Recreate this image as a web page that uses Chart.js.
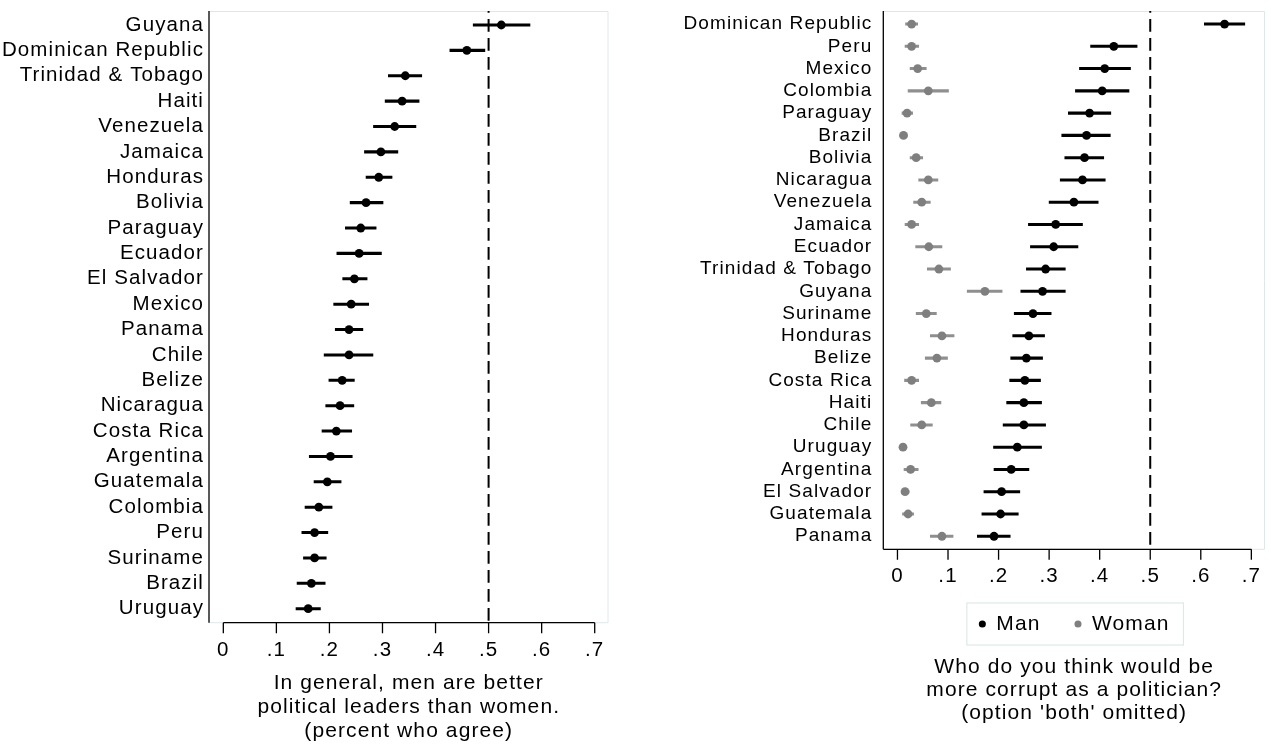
<!DOCTYPE html>
<html>
<head>
<meta charset="utf-8">
<title>Gender attitudes in Latin America and the Caribbean</title>
<script src="https://cdn.jsdelivr.net/npm/chart.js@4.4.1/dist/chart.umd.min.js"></script>
<style>
  html, body { margin: 0; padding: 0; background: #fff; overflow: hidden; }
  #wrap { position: relative; width: 1271px; height: 748px; }
  #leaders { position: absolute; left: 0; top: 0; width: 625px; height: 748px; }
  #corrupt { position: absolute; left: 640px; top: 0; width: 631px; height: 748px; }
</style>
</head>
<body>
<div id="wrap">
  <canvas id="leaders" width="625" height="748"></canvas>
  <canvas id="corrupt" width="631" height="748"></canvas>
</div>
<script>
// ---- Panel 1: "men are better political leaders" (share who agree, 95% CI) ----
const leaderCountries = ['Guyana', 'Dominican Republic', 'Trinidad & Tobago', 'Haiti', 'Venezuela',
  'Jamaica', 'Honduras', 'Bolivia', 'Paraguay', 'Ecuador', 'El Salvador', 'Mexico', 'Panama',
  'Chile', 'Belize', 'Nicaragua', 'Costa Rica', 'Argentina', 'Guatemala', 'Colombia', 'Peru',
  'Suriname', 'Brazil', 'Uruguay'];
const agreeShare = [0.524, 0.459, 0.343, 0.337, 0.323, 0.297, 0.293, 0.269, 0.259, 0.256, 0.247,
  0.241, 0.237, 0.237, 0.224, 0.220, 0.213, 0.202, 0.196, 0.180, 0.172, 0.172, 0.166, 0.160];
const agreeLow = [0.471, 0.427, 0.311, 0.305, 0.283, 0.266, 0.269, 0.239, 0.230, 0.214, 0.225,
  0.208, 0.211, 0.190, 0.199, 0.193, 0.186, 0.162, 0.171, 0.154, 0.148, 0.151, 0.139, 0.137];
const agreeHigh = [0.578, 0.493, 0.374, 0.369, 0.363, 0.329, 0.318, 0.301, 0.288, 0.298, 0.271,
  0.274, 0.263, 0.282, 0.247, 0.246, 0.242, 0.243, 0.222, 0.205, 0.197, 0.194, 0.192, 0.183];

// ---- Panel 2: "who would be more corrupt as a politician" by answer ----
const corruptCountries = ['Dominican Republic', 'Peru', 'Mexico', 'Colombia', 'Paraguay', 'Brazil',
  'Bolivia', 'Nicaragua', 'Venezuela', 'Jamaica', 'Ecuador', 'Trinidad & Tobago', 'Guyana',
  'Suriname', 'Honduras', 'Belize', 'Costa Rica', 'Haiti', 'Chile', 'Uruguay', 'Argentina',
  'El Salvador', 'Guatemala', 'Panama'];
const manShare = [0.647, 0.428, 0.410, 0.405, 0.380, 0.374, 0.370, 0.366, 0.349, 0.313, 0.309,
  0.293, 0.287, 0.268, 0.260, 0.255, 0.252, 0.250, 0.250, 0.237, 0.225, 0.206, 0.204, 0.191];
const manLow = [0.607, 0.382, 0.360, 0.352, 0.338, 0.325, 0.331, 0.322, 0.300, 0.259, 0.263,
  0.255, 0.244, 0.231, 0.228, 0.224, 0.222, 0.216, 0.209, 0.190, 0.191, 0.171, 0.167, 0.158];
const manHigh = [0.687, 0.474, 0.461, 0.458, 0.422, 0.421, 0.408, 0.411, 0.397, 0.366, 0.357,
  0.332, 0.332, 0.304, 0.291, 0.287, 0.283, 0.285, 0.293, 0.285, 0.260, 0.242, 0.239, 0.223];
const womanShare = [0.028, 0.028, 0.040, 0.061, 0.019, 0.012, 0.037, 0.061, 0.048, 0.028, 0.062,
  0.082, 0.173, 0.057, 0.088, 0.078, 0.028, 0.067, 0.048, 0.011, 0.026, 0.015, 0.021, 0.088];
const womanLow = [0.016, 0.015, 0.025, 0.021, 0.009, 0.005, 0.025, 0.042, 0.032, 0.015, 0.036,
  0.059, 0.138, 0.037, 0.065, 0.055, 0.014, 0.047, 0.026, 0.005, 0.013, 0.009, 0.010, 0.065];
const womanHigh = [0.040, 0.042, 0.057, 0.101, 0.030, 0.019, 0.050, 0.080, 0.065, 0.042, 0.088,
  0.105, 0.207, 0.077, 0.112, 0.099, 0.042, 0.086, 0.069, 0.018, 0.041, 0.023, 0.032, 0.110];
const seriesNames = ['Man', 'Woman'];

// ---- shared axis ticks and titles ----
const xTickValues = [0, 0.1, 0.2, 0.3, 0.4, 0.5, 0.6, 0.7];
const xTickLabels = ['0', '.1', '.2', '.3', '.4', '.5', '.6', '.7'];
const parityLine = 0.5;
const leadersTitle = ['In general, men are better', 'political leaders than women.', '(percent who agree)'];
const corruptTitle = ['Who do you think would be', 'more corrupt as a politician?', "(option 'both' omitted)"];

const FONT = "'Liberation Sans', Arial, Helvetica, sans-serif";
const LETTER_SPACING = '1.1px';
const OUTLINE = '#dfe8e9';
const BLACK = '#000000';
const GREY_DOT = '#7f7f7f';
const GREY_BAR = '#8f8f8f';

Chart.defaults.font.family = FONT;
Chart.defaults.color = BLACK;

// Slightly open letter spacing for all canvas text.
const spacing = {
  id: 'spacing',
  beforeUpdate(c) { c.ctx.letterSpacing = LETTER_SPACING; },
  beforeLayout(c) { c.ctx.letterSpacing = LETTER_SPACING; },
  beforeDraw(c) { c.ctx.letterSpacing = LETTER_SPACING; }
};

// Plot region (chart area plus a small margin m), dashed reference line,
// left and bottom axis lines with ticks, legend frame.
function frame(cfg) {
  const m = cfg.margin;
  return {
    id: 'frame',
    afterLayout(chart) {
      const a = chart.chartArea;
      const t = chart.titleBlock;
      if (t) {
        t.left = a.left; t.right = a.right; t.width = a.right - a.left;
        if (cfg.titleTop != null) { const h = t.height; t.top = a.bottom + cfg.titleTop; t.bottom = t.top + h; }
      }
      const lg = chart.legend;
      if (lg && lg.options.display) {
        lg.left = a.left; lg.right = a.right; lg.width = a.right - a.left;
        if (cfg.legendTop != null) { lg.top = a.bottom + cfg.legendTop; lg.height = 100; lg.bottom = lg.top + 100; }
      }
    },
    beforeDatasetsDraw(chart) {
      const { ctx, chartArea: a, scales: { x } } = chart;
      const top = a.top - m, bottom = a.bottom + m;
      ctx.save();
      ctx.strokeStyle = OUTLINE;
      ctx.lineWidth = 1;
      ctx.beginPath();
      ctx.moveTo(a.left, top + 0.5);
      ctx.lineTo(a.right - 0.5, top + 0.5);
      ctx.lineTo(a.right - 0.5, bottom);
      ctx.lineTo(a.left, bottom);
      ctx.stroke();
      const rx = x.getPixelForValue(parityLine);
      ctx.strokeStyle = BLACK;
      ctx.lineWidth = 2;
      ctx.setLineDash([12.7, 6.3]);
      ctx.lineDashOffset = 11;
      ctx.beginPath();
      ctx.moveTo(rx, top);
      ctx.lineTo(rx, bottom);
      ctx.stroke();
      ctx.restore();
    },
    afterDraw(chart) {
      const { ctx, chartArea: a, scales: { x } } = chart;
      const top = a.top - m, bottom = a.bottom + m;
      ctx.save();
      ctx.strokeStyle = BLACK;
      ctx.lineWidth = 1.3;
      ctx.beginPath();
      ctx.moveTo(a.left, top);
      ctx.lineTo(a.left, bottom);
      const x0 = x.getPixelForValue(cfg.axisFrom == null ? x.min : cfg.axisFrom);
      const x1 = x.getPixelForValue(xTickValues[xTickValues.length - 1]);
      ctx.moveTo(x0, bottom);
      ctx.lineTo(x1, bottom);
      xTickValues.forEach(v => {
        const px = x.getPixelForValue(v);
        ctx.moveTo(px, bottom);
        ctx.lineTo(px, bottom + 10.5);
      });
      ctx.stroke();
      if (cfg.legendFrame && chart.legend && chart.legend.legendHitBoxes.length) {
        const boxes = chart.legend.legendHitBoxes;
        const last = boxes[boxes.length - 1];
        const l = boxes[0].left, r = last.left + last.width;
        const cy = boxes[0].top + boxes[0].height / 2;
        ctx.strokeStyle = OUTLINE;
        ctx.lineWidth = 1.2;
        ctx.strokeRect(l - 12, cy - 21, r - l + 26, 42);
      }
      ctx.restore();
    }
  };
}

function ciBars(low, high, color, order) {
  return {
    type: 'bar', indexAxis: 'y', label: 'ci', order,
    data: low.map((l, i) => [l, high[i]]),
    backgroundColor: color, borderWidth: 0, barThickness: 2.4, grouped: false
  };
}

function dots(label, values, color, order) {
  return {
    type: 'line', indexAxis: 'y', label, order, data: values, showLine: false,
    pointRadius: 4.4, pointHoverRadius: 4.4, pointStyle: 'circle', pointBorderWidth: 0,
    pointBackgroundColor: color, backgroundColor: color, borderColor: color
  };
}

function errorChart(canvas, spec) {
  return new Chart(canvas, {
    type: 'bar',
    data: { labels: spec.labels, datasets: spec.datasets },
    options: {
      indexAxis: 'y', responsive: false, animation: false, events: [],
      layout: { padding: spec.padding },
      scales: {
        x: {
          type: 'linear', min: spec.xMin, max: spec.xMax, bounds: 'data',
          afterBuildTicks: s => { s.ticks = xTickValues.map(v => ({ value: v })); },
          afterFit: s => { s.height = spec.xHeight; s.paddingLeft = 0; s.paddingRight = 0; },
          ticks: { callback: (v, i) => xTickLabels[i], font: { size: 20.5 }, padding: spec.tickGap,
                   color: BLACK, maxRotation: 0, autoSkip: false },
          grid: { display: false, drawTicks: false },
          border: { display: false }
        },
        y: {
          type: 'category',
          afterFit: s => { s.width = spec.yWidth; s.paddingTop = 0; s.paddingBottom = 0; },
          ticks: { font: { size: spec.labelSize }, padding: spec.labelGap, color: BLACK, autoSkip: false },
          grid: { display: false, drawTicks: false },
          border: { display: false }
        }
      },
      plugins: {
        legend: spec.legend,
        title: spec.title,
        tooltip: { enabled: false }
      }
    },
    plugins: [spacing, frame(spec.frame)]
  });
}

errorChart(document.getElementById('leaders'), {
  labels: leaderCountries,
  datasets: [
    dots('Share who agree', agreeShare, BLACK, 0),
    ciBars(agreeLow, agreeHigh, BLACK, 1)
  ],
  padding: { top: 12.3, right: 16.5, bottom: 5, left: 0 },
  xMin: -0.027, xMax: 0.726, xHeight: 49.6, tickGap: 16.3,
  yWidth: 209, labelSize: 20.5, labelGap: 5,
  legend: { display: false },
  title: { display: true, position: 'bottom', text: leadersTitle, color: BLACK,
           font: { size: 21, weight: 'normal', lineHeight: 24 / 21 }, padding: 0 },
  frame: { axisFrom: 0, margin: 1.3 }
});

errorChart(document.getElementById('corrupt'), {
  labels: corruptCountries,
  datasets: [
    dots(seriesNames[0], manShare, BLACK, 0),
    dots(seriesNames[1], womanShare, GREY_DOT, 1),
    ciBars(manLow, manHigh, BLACK, 2),
    ciBars(womanLow, womanHigh, GREY_BAR, 3)
  ],
  padding: { top: 12.9, right: 6, bottom: 44.7, left: 0 },
  xMin: -0.028, xMax: 0.727, xHeight: 46.9, tickGap: 16.9,
  yWidth: 243.3, labelSize: 19, labelGap: 11,
  legend: {
    display: true, position: 'bottom', maxHeight: 40,
    labels: {
      usePointStyle: true, boxWidth: 7, boxHeight: 5, padding: 34, color: BLACK,
      font: { size: 21 },
      filter: (item, data) => data.datasets[item.datasetIndex].type === 'line'
    }
  },
  title: { display: true, position: 'bottom', text: corruptTitle, color: BLACK,
           font: { size: 21, weight: 'normal', lineHeight: 23 / 21 }, padding: 0 },
  frame: { axisFrom: null, margin: 1.9, legendTop: 32.1, titleTop: 108.1, legendFrame: true }
});
</script>
</body>
</html>
